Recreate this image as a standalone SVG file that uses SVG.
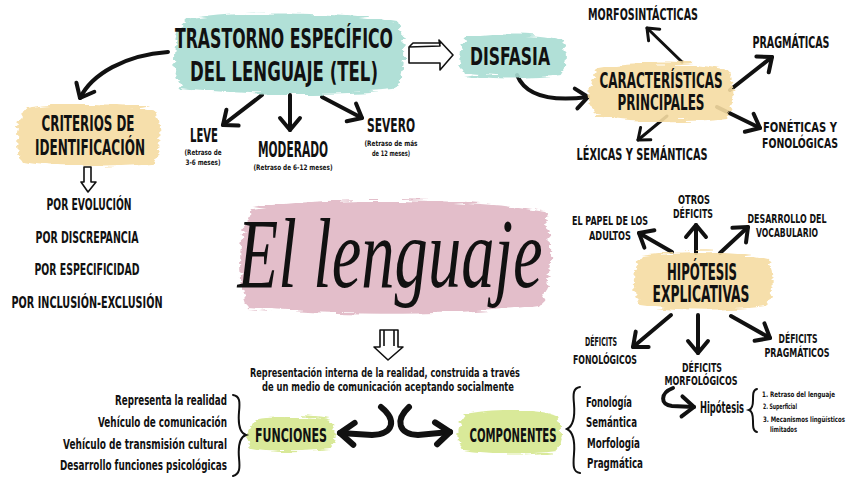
<svg xmlns="http://www.w3.org/2000/svg" width="848" height="477" viewBox="0 0 848 477">
<defs>
<filter id="brush" x="-10%" y="-20%" width="120%" height="140%">
<feTurbulence type="fractalNoise" baseFrequency="0.03 0.25" numOctaves="2" seed="3" result="n"/>
<feDisplacementMap in="SourceGraphic" in2="n" scale="10" xChannelSelector="R" yChannelSelector="G"/>
</filter>
<marker id="ah" viewBox="-16 -14 20 28" refX="0" refY="0" markerUnits="userSpaceOnUse" markerWidth="20" markerHeight="28" orient="auto">
<path d="M-12,-10 L0,0 L-12,10" fill="none" stroke="#111" stroke-width="4" stroke-linecap="round" stroke-linejoin="round"/>
</marker>
<marker id="ahs" viewBox="-14 -12 18 24" refX="0" refY="0" markerUnits="userSpaceOnUse" markerWidth="18" markerHeight="24" orient="auto">
<path d="M-10,-8 L0,0 L-10,8" fill="none" stroke="#111" stroke-width="3" stroke-linecap="round" stroke-linejoin="round"/>
</marker>
<marker id="ahb" viewBox="-20 -16 24 32" refX="0" refY="0" markerUnits="userSpaceOnUse" markerWidth="24" markerHeight="32" orient="auto">
<path d="M-14,-11 L0,0 L-14,11" fill="none" stroke="#111" stroke-width="6" stroke-linecap="round" stroke-linejoin="round"/>
</marker>
</defs>
<style>
text{font-family:"DejaVu Sans Condensed","DejaVu Sans",sans-serif;font-weight:bold;fill:#111;}
.c{text-anchor:middle;}
.e{text-anchor:end;}
.teal{fill:#a9ddd3;}
.orange{fill:#f6dca2;}
.pink{fill:#e0b8c5;}
.green{fill:#d5e78f;}
.blob{filter:url(#brush);opacity:0.9;}
.ar{fill:none;stroke:#111;stroke-width:4;stroke-linecap:round;}
.ars{fill:none;stroke:#111;stroke-width:3;stroke-linecap:round;}
.arb{fill:none;stroke:#111;stroke-width:6;stroke-linecap:round;}
.hollow{fill:#fff;stroke:#111;stroke-width:1.6;stroke-linejoin:round;}
.brace{fill:none;stroke:#111;stroke-width:2;stroke-linecap:round;}
.script{font-family:"Liberation Serif","DejaVu Serif",serif;font-style:italic;font-weight:normal;}
</style>
<rect width="848" height="477" fill="#fff"/>

<g id="connectors">
<path class="ar" d="M168,52 C125,55 92,74 80,98" marker-end="url(#ah)"/>
<path class="ar" d="M262,95 L223,125" marker-end="url(#ah)"/>
<path class="ar" d="M290,95 L290,130" marker-end="url(#ah)"/>
<path class="ar" d="M322,97 L362,118" marker-end="url(#ah)"/>
<path class="hollow" d="M409,47 L440,46 L439,40 L453,55 L440,70 L440,63 L409,63 Z M409,47 L413,43 L441,43"/>
<path class="ar" d="M517,75 C525,95 550,102 588,97" marker-end="url(#ah)"/>
<path class="ars" d="M682,62 L647,28" marker-end="url(#ahs)"/>
<path class="ar" d="M730,90 L772,57" marker-end="url(#ah)"/>
<path class="ar" d="M717,107 L760,128" marker-end="url(#ah)"/>
<path class="ars" d="M667,116 L638,140" marker-end="url(#ahs)"/>
<path class="hollow" d="M84,167 L91,167 L91,182 L96,182 L88,192 L81,182 L84,182 Z"/>
<path class="hollow" d="M380,330 L398,330 L398,347 L403,347 L388,360 L374,347 L380,347 Z M384,330 L384,346 M394,330 L394,346"/>
<path class="arb" d="M381,407 C397,420 394,434 372,435 L340,433" marker-end="url(#ahb)"/>
<path class="arb" d="M409,407 C395,420 398,434 418,435 L450,432" marker-end="url(#ahb)"/>
<path class="ar" d="M672,252 L639,233" marker-end="url(#ah)"/>
<path class="ar" d="M696,253 L696,225" marker-end="url(#ah)"/>
<path class="ar" d="M720,253 L748,227" marker-end="url(#ah)"/>
<path class="ar" d="M671,315 L633,347" marker-end="url(#ah)"/>
<path class="ar" d="M698,315 L698,353" marker-end="url(#ah)"/>
<path class="ar" d="M731,316 L770,338" marker-end="url(#ah)"/>
<path class="ar" d="M673,388 C660,393 660,405 672,406 L694,407" marker-end="url(#ah)"/>
</g>

<g id="tel">
<path class="blob teal" d="M185,20 C240,10 340,12 398,22 C408,45 405,75 395,90 C330,96 240,95 182,88 C170,70 172,38 185,20 Z"/>
<text class="c" x="284" y="48" font-size="27" textLength="218" lengthAdjust="spacingAndGlyphs">TRASTORNO ESPECÍFICO</text>
<text class="c" x="284" y="81" font-size="27" textLength="188" lengthAdjust="spacingAndGlyphs">DEL LENGUAJE (TEL)</text>
</g>

<g id="disfasia">
<path class="blob teal" d="M466,38 C490,33 540,33 562,40 C568,52 567,66 560,75 C530,79 488,78 464,74 C457,62 458,48 466,38 Z"/>
<text class="c" x="510" y="65" font-size="25" textLength="80" lengthAdjust="spacingAndGlyphs">DISFASIA</text>
</g>

<g id="caracteristicas">
<path class="blob orange" d="M598,68 C640,60 700,61 728,70 C736,85 735,105 726,118 C690,123 630,122 596,116 C586,100 588,80 598,68 Z"/>
<text class="c" x="661" y="88" font-size="22" textLength="123" lengthAdjust="spacingAndGlyphs">CARACTERÍSTICAS</text>
<text class="c" x="661" y="110" font-size="22" textLength="87" lengthAdjust="spacingAndGlyphs">PRINCIPALES</text>
</g>

<g id="morfosintacticas"><text class="c" x="643" y="20" font-size="16" textLength="110" lengthAdjust="spacingAndGlyphs">MORFOSINTÁCTICAS</text></g>
<g id="pragmaticas"><text class="c" x="791" y="48" font-size="15" textLength="77" lengthAdjust="spacingAndGlyphs">PRAGMÁTICAS</text></g>
<g id="foneticas">
<text class="c" x="800" y="132" font-size="14" textLength="74" lengthAdjust="spacingAndGlyphs">FONÉTICAS Y</text>
<text class="c" x="800" y="148" font-size="14" textLength="76" lengthAdjust="spacingAndGlyphs">FONOLÓGICAS</text>
</g>
<g id="lexicas"><text class="c" x="642" y="160" font-size="16" textLength="131" lengthAdjust="spacingAndGlyphs">LÉXICAS Y SEMÁNTICAS</text></g>

<g id="leve">
<text class="c" x="204" y="142" font-size="20" textLength="28" lengthAdjust="spacingAndGlyphs">LEVE</text>
<text class="c" x="203" y="155" font-size="7.5" textLength="37" lengthAdjust="spacingAndGlyphs">(Retraso de</text>
<text class="c" x="203" y="165" font-size="7.5" textLength="35" lengthAdjust="spacingAndGlyphs">3-6 meses)</text>
</g>
<g id="moderado">
<text class="c" x="293" y="157" font-size="21" textLength="70" lengthAdjust="spacingAndGlyphs">MODERADO</text>
<text class="c" x="293" y="170" font-size="7.5" textLength="79" lengthAdjust="spacingAndGlyphs">(Retraso de 6-12 meses)</text>
</g>
<g id="severo">
<text class="c" x="391" y="132" font-size="20" textLength="48" lengthAdjust="spacingAndGlyphs">SEVERO</text>
<text class="c" x="391" y="146" font-size="7.5" textLength="53" lengthAdjust="spacingAndGlyphs">(Retraso de más</text>
<text class="c" x="391" y="156" font-size="7.5" textLength="38" lengthAdjust="spacingAndGlyphs">de 12 meses)</text>
</g>

<g id="criterios">
<path class="blob orange" d="M26,108 C60,102 130,103 154,110 C162,125 161,150 152,164 C110,168 55,168 24,162 C14,148 15,122 26,108 Z"/>
<text class="c" x="88" y="131" font-size="21" textLength="93" lengthAdjust="spacingAndGlyphs">CRITERIOS DE</text>
<text class="c" x="90" y="155" font-size="21" textLength="110" lengthAdjust="spacingAndGlyphs">IDENTIFICACIÓN</text>
</g>
<g id="criterios-lista">
<text class="c" x="89" y="210" font-size="16" textLength="85" lengthAdjust="spacingAndGlyphs">POR EVOLUCIÓN</text>
<text class="c" x="87" y="243" font-size="16" textLength="103" lengthAdjust="spacingAndGlyphs">POR DISCREPANCIA</text>
<text class="c" x="87" y="275" font-size="16" textLength="105" lengthAdjust="spacingAndGlyphs">POR ESPECIFICIDAD</text>
<text class="c" x="87" y="308" font-size="16" textLength="151" lengthAdjust="spacingAndGlyphs">POR INCLUSIÓN-EXCLUSIÓN</text>
</g>

<g id="lenguaje">
<path class="blob pink" d="M252,208 C330,196 470,198 545,212 C553,240 552,285 540,305 C460,316 330,316 248,308 C236,280 238,232 252,208 Z"/>
<text class="script" x="390" y="287" font-size="100" text-anchor="middle" textLength="305" lengthAdjust="spacingAndGlyphs">El lenguaje</text>
</g>

<g id="definicion">
<text class="c" x="385" y="377" font-size="13" textLength="270" lengthAdjust="spacingAndGlyphs">Representación interna de la realidad, construida a través</text>
<text class="c" x="388" y="391" font-size="13" textLength="252" lengthAdjust="spacingAndGlyphs">de un medio de comunicación aceptando socialmente</text>
</g>

<g id="funciones">
<path class="blob green" d="M254,420 C275,416 315,416 331,421 C336,430 336,442 330,449 C305,452 272,452 252,448 C246,440 247,427 254,420 Z"/>
<text class="c" x="291" y="442" font-size="20" textLength="72" lengthAdjust="spacingAndGlyphs">FUNCIONES</text>
</g>
<g id="funciones-lista">
<text class="e" x="227" y="405" font-size="14" textLength="112" lengthAdjust="spacingAndGlyphs">Representa la realidad</text>
<text class="e" x="227" y="427" font-size="14" textLength="129" lengthAdjust="spacingAndGlyphs">Vehículo de comunicación</text>
<text class="e" x="227" y="449" font-size="14" textLength="164" lengthAdjust="spacingAndGlyphs">Vehículo de transmisión cultural</text>
<text class="e" x="227" y="470" font-size="14" textLength="167" lengthAdjust="spacingAndGlyphs">Desarrollo funciones psicológicas</text>
<path class="brace" d="M233,395 C240,396 240,402 239,412 C238,424 240,433 246,435 C240,437 238,446 239,458 C240,468 240,474 233,476"/>
</g>

<g id="componentes">
<path class="blob green" d="M466,414 C495,408 540,409 557,416 C563,428 562,442 556,452 C525,456 488,455 463,451 C456,440 457,424 466,414 Z"/>
<text class="c" x="513" y="442" font-size="20" textLength="87" lengthAdjust="spacingAndGlyphs">COMPONENTES</text>
</g>
<g id="componentes-lista">
<path class="brace" d="M580,387 C573,388 573,394 574,404 C575,416 573,426 567,429 C573,432 575,442 574,454 C573,466 573,472 580,473"/>
<text x="586" y="407" font-size="14" textLength="46" lengthAdjust="spacingAndGlyphs">Fonología</text>
<text x="586" y="427" font-size="14" textLength="51" lengthAdjust="spacingAndGlyphs">Semántica</text>
<text x="587" y="448" font-size="14" textLength="53" lengthAdjust="spacingAndGlyphs">Morfología</text>
<text x="587" y="468" font-size="14" textLength="56" lengthAdjust="spacingAndGlyphs">Pragmática</text>
</g>

<g id="hipotesis-explicativas">
<path class="blob orange" d="M642,256 C680,250 740,251 768,259 C775,275 774,295 766,306 C730,311 675,311 640,305 C631,292 632,268 642,256 Z"/>
<text class="c" x="702" y="280" font-size="23" textLength="70" lengthAdjust="spacingAndGlyphs">HIPÓTESIS</text>
<text class="c" x="701" y="302" font-size="23" textLength="97" lengthAdjust="spacingAndGlyphs">EXPLICATIVAS</text>
</g>
<g id="papel-adultos">
<text class="c" x="610" y="225" font-size="13" textLength="76" lengthAdjust="spacingAndGlyphs">EL PAPEL DE LOS</text>
<text class="c" x="610" y="240" font-size="13" textLength="42" lengthAdjust="spacingAndGlyphs">ADULTOS</text>
</g>
<g id="otros-deficits">
<text class="c" x="694" y="204" font-size="13" textLength="32" lengthAdjust="spacingAndGlyphs">OTROS</text>
<text class="c" x="693" y="218" font-size="13" textLength="40" lengthAdjust="spacingAndGlyphs">DÉFICITS</text>
</g>
<g id="vocabulario">
<text class="c" x="787" y="223" font-size="13" textLength="79" lengthAdjust="spacingAndGlyphs">DESARROLLO DEL</text>
<text class="c" x="787" y="237" font-size="13" textLength="62" lengthAdjust="spacingAndGlyphs">VOCABULARIO</text>
</g>
<g id="def-fonologicos">
<text class="c" x="601" y="346" font-size="13" textLength="32" lengthAdjust="spacingAndGlyphs">DÉFICITS</text>
<text class="c" x="605" y="364" font-size="13" textLength="64" lengthAdjust="spacingAndGlyphs">FONOLÓGICOS</text>
</g>
<g id="def-morfologicos">
<text class="c" x="702" y="372" font-size="13" textLength="40" lengthAdjust="spacingAndGlyphs">DÉFICITS</text>
<text class="c" x="701" y="385" font-size="13" textLength="73" lengthAdjust="spacingAndGlyphs">MORFOLÓGICOS</text>
</g>
<g id="def-pragmaticos">
<text class="c" x="798" y="343" font-size="13" textLength="39" lengthAdjust="spacingAndGlyphs">DÉFICITS</text>
<text class="c" x="797" y="357" font-size="13" textLength="65" lengthAdjust="spacingAndGlyphs">PRAGMÁTICOS</text>
</g>
<g id="hipotesis-morf">
<text x="700" y="413" font-size="15" textLength="44" lengthAdjust="spacingAndGlyphs">Hipótesis</text>
<path class="brace" d="M757,389 C753,390 753,394 753,400 C753,406 752,409 749,410 C752,411 753,415 753,421 C753,427 753,431 757,432"/>
<text x="762" y="397" font-size="7.5" textLength="73" lengthAdjust="spacingAndGlyphs">1. Retraso del lenguaje</text>
<text x="763" y="409" font-size="7.5" textLength="34" lengthAdjust="spacingAndGlyphs">2. Superficial</text>
<text x="763" y="422" font-size="7.5" textLength="82" lengthAdjust="spacingAndGlyphs">3. Mecanismos lingüísticos</text>
<text x="770" y="432" font-size="7.5" textLength="27" lengthAdjust="spacingAndGlyphs">limitados</text>
</g>
</svg>
